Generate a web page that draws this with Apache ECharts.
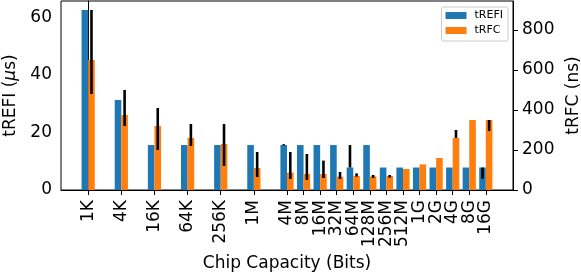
<!DOCTYPE html>
<html><head><meta charset="utf-8">
<script src="https://cdn.jsdelivr.net/npm/echarts@6/dist/echarts.min.js"></script>
<style>html,body{margin:0;padding:0;background:#fff}#c{width:581px;height:274px}</style>
</head><body><div id="c"></div>
<script>
// ---- data ----
const capacities = ['1K','4K','16K','64K','256K','1M','4M','8M','16M','32M','64M','128M','256M','512M','1G','2G','4G','8G','16G'];
const trefi     = [62.5, 31.25, 15.6, 15.6, 15.6, 15.6, 15.6, 15.6, 15.6, 15.6, 7.8, 15.6, 7.8, 7.8, 7.8, 7.8, 7.8, 7.8, 7.8];
const trefiLow  = [null, null, null, null, null, null, 15.5, null, null, null, 7.8, null, null, null, null, null, null, null, 3.9];
const trefiHigh = [null, null, null, null, null, null, 15.9, null, null, null, 15.6, null, null, null, null, null, null, null, 7.8];
const trfc      = [650, 375, 320, 260, 230, 110, 87, 80, 80, 67, 70, 68, 70, 105, 128, 160, 260, 350, 350];
const trfcLow   = [480, 320, 200, 220, 120, 65, 55, 50, 60, 55, 67, 60, 62, null, null, null, 260, null, 295];
const trfcHigh  = [900, 500, 410, 330, 330, 190, 190, 180, 147, 90, 83, 75, 75, null, null, null, 300, null, 350];
const leftTicks  = [0, 20, 40, 60];
const rightTicks = [0, 200, 400, 600, 800];

// position of a capacity on the axis: log2(bits) - 10
const unitExp = {K: 10, M: 20, G: 30};
function pos(label) {
  const n = parseInt(label, 10);
  const u = label.replace(/[0-9]/g, '');
  return Math.log2(n) + unitExp[u] - 10;
}
const xPos = capacities.map(pos);
const labelByPos = {};
capacities.forEach((c, i) => { labelByPos[xPos[i]] = c; });

const X_MIN = -1.64, X_MAX = 25.64;
const BAR_W = 6.6;
const FONT = 'DejaVu Sans';

function errData(lo, hi) {
  const out = [];
  capacities.forEach((c, i) => { if (lo[i] != null) out.push([xPos[i], lo[i], hi[i]]); });
  return out;
}
function errRender(side) {
  return function (params, api) {
    const x = api.value(0);
    const top = api.coord([x, api.value(2)]);
    const bot = api.coord([x, api.value(1)]);
    const cx = top[0] + side * BAR_W / 2;
    const raw = bot[1] - top[1];
    const h = Math.max(raw, 1.2);
    return {type: 'rect', shape: {x: cx - 1.3, y: top[1] - (h - raw) / 2, width: 2.6, height: h}, style: {fill: '#000'}};
  };
}

const chart = echarts.init(document.getElementById('c'), null, {renderer: 'canvas'});
chart.setOption({
  animation: false,
  backgroundColor: '#fff',
  textStyle: {fontFamily: FONT, color: '#000'},
  grid: {left: 61, right: 68, top: 1, bottom: 84, outerBoundsMode: 'none', containLabel: false,
    show: true, borderColor: '#000', borderWidth: 1, backgroundColor: 'transparent'},
  legend: {
    data: ['tREFI', 'tRFC'],
    orient: 'vertical',
    right: 73, top: 7,
    icon: 'rect', itemWidth: 21, itemHeight: 7, itemGap: 2, itemStyle: {borderWidth: 0},
    padding: [2, 5, 4, 4],
    backgroundColor: '#fff', borderColor: '#cccccc', borderWidth: 1, borderRadius: 2,
    textStyle: {fontFamily: FONT, fontSize: 11, color: '#000', lineHeight: 13, padding: [0, 0, 0, 3]}
  },
  xAxis: {
    type: 'value', min: X_MIN, max: X_MAX,
    name: 'Chip Capacity (Bits)', nameLocation: 'middle', nameGap: 61,
    nameTextStyle: {fontFamily: FONT, fontSize: 17, color: '#000'},
    axisLine: {show: true, lineStyle: {color: '#000', width: 1}},
    axisTick: {show: true, length: 5, lineStyle: {color: '#000'}, customValues: xPos},
    axisLabel: {rotate: 90, margin: 10, fontFamily: FONT, fontSize: 17, color: '#000',
      customValues: xPos.concat([X_MAX]),
      showMinLabel: true, showMaxLabel: true, hideOverlap: false,
      formatter: v => labelByPos[Math.round(v)] || ' '},
    splitLine: {show: false}
  },
  yAxis: [{
    type: 'value', min: 0, max: 65.6, position: 'left',
    name: '{a|tREFI (}{b|μ}{a|s)}', nameLocation: 'middle', nameGap: 40, nameRotate: 90,
    nameTextStyle: {rich: {a: {fontFamily: FONT, fontSize: 17, color: '#000'}, b: {fontFamily: FONT, fontSize: 17, fontStyle: 'italic', color: '#000'}}},
    axisLine: {show: true, lineStyle: {color: '#000'}},
    axisTick: {show: true, length: 5, lineStyle: {color: '#000'}, customValues: leftTicks},
    axisLabel: {margin: 9, fontFamily: FONT, fontSize: 17, color: '#000', customValues: leftTicks, showMinLabel: true, showMaxLabel: true},
    splitLine: {show: false}
  }, {
    type: 'value', min: 0, max: 945, position: 'right',
    name: 'tRFC (ns)', nameLocation: 'middle', nameGap: 52, nameRotate: 90,
    nameTextStyle: {fontFamily: FONT, fontSize: 17, color: '#000'},
    axisLine: {show: true, lineStyle: {color: '#000'}},
    axisTick: {show: true, length: 5, lineStyle: {color: '#000'}, customValues: rightTicks},
    axisLabel: {margin: 9, fontFamily: FONT, fontSize: 17, color: '#000', customValues: rightTicks, showMinLabel: true, showMaxLabel: true},
    splitLine: {show: false}
  }],
  series: [{
    name: 'tREFI', type: 'bar', xAxisIndex: 0, yAxisIndex: 0,
    barWidth: BAR_W, barGap: '0%',
    itemStyle: {color: '#1f77b4'},
    data: capacities.map((c, i) => [xPos[i], trefi[i]])
  }, {
    name: 'tRFC', type: 'bar', xAxisIndex: 0, yAxisIndex: 1,
    barWidth: BAR_W, barGap: '0%',
    itemStyle: {color: '#ff7f0e'},
    data: capacities.map((c, i) => [xPos[i], trfc[i]])
  }, {
    type: 'custom', xAxisIndex: 0, yAxisIndex: 0, z: 5,
    renderItem: errRender(-1), encode: {x: 0, y: [1, 2]},
    data: errData(trefiLow, trefiHigh)
  }, {
    type: 'custom', xAxisIndex: 0, yAxisIndex: 1, z: 5,
    renderItem: errRender(1), encode: {x: 0, y: [1, 2]},
    data: errData(trfcLow, trfcHigh)
  }]
});
</script></body></html>
